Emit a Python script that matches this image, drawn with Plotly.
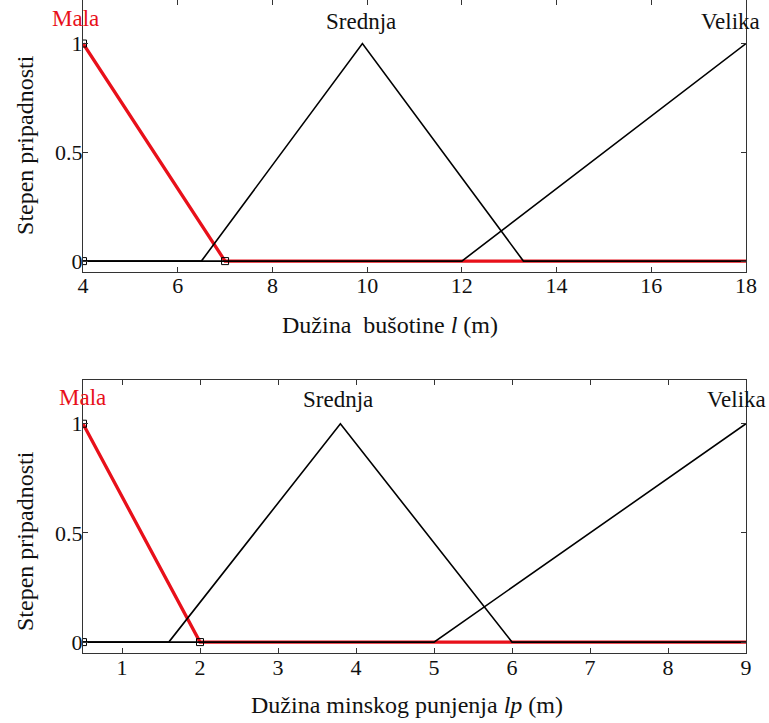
import plotly.graph_objects as go
from plotly.subplots import make_subplots

# ---- data: top panel (Dužina bušotine l, m) ----
top_mf_names = ["Mala", "Srednja", "Velika"]
top_mala_x = [4, 7, 18]
top_mala_y = [1, 0, 0]
top_srednja_x = [4, 6.5, 9.9, 13.3, 18]
top_srednja_y = [0, 0, 1, 0, 0]
top_velika_x = [4, 12, 18]
top_velika_y = [0, 0, 1]
top_handles_x = [4, 4, 7]
top_handles_y = [0, 1, 0]
top_xticks = [4, 6, 8, 10, 12, 14, 16, 18]
top_xrange = [4, 18]

# ---- data: bottom panel (Dužina minskog punjenja lp, m) ----
bot_mf_names = ["Mala", "Srednja", "Velika"]
bot_mala_x = [0.5, 2, 9]
bot_mala_y = [1, 0, 0]
bot_srednja_x = [0.5, 1.6, 3.8, 6, 9]
bot_srednja_y = [0, 0, 1, 0, 0]
bot_velika_x = [0.5, 5, 9]
bot_velika_y = [0, 0, 1]
bot_handles_x = [0.5, 0.5, 2]
bot_handles_y = [0, 1, 0]
bot_xticks = [1, 2, 3, 4, 5, 6, 7, 8, 9]
bot_xrange = [0.5, 9]

yticks = [0, 0.5, 1]
ytick_text = ["0", "0.5", "1"]

# label positions (fraction of each panel's x domain)
top_label_pos = [-0.012, 0.42, 0.976]
bot_label_pos = [-0.0015, 0.385, 0.986]
top_label_y = [1.115, 1.10, 1.10]
bot_label_y = [1.12, 1.11, 1.11]

FONT = "Liberation Serif"
RED = "#e8101a"

fig = make_subplots(rows=2, cols=1)

def add_panel(row, mx, my, sx, sy, vx, vy, hx, hy):
    fig.add_trace(go.Scatter(x=mx, y=my, mode="lines",
                             line=dict(color=RED, width=3.3),
                             showlegend=False, hoverinfo="skip"), row=row, col=1)
    fig.add_trace(go.Scatter(x=sx, y=sy, mode="lines",
                             line=dict(color="black", width=1.6),
                             showlegend=False, hoverinfo="skip"), row=row, col=1)
    fig.add_trace(go.Scatter(x=vx, y=vy, mode="lines",
                             line=dict(color="black", width=1.6),
                             showlegend=False, hoverinfo="skip"), row=row, col=1)
    fig.add_trace(go.Scatter(x=hx, y=hy, mode="markers",
                             marker=dict(symbol="square-open", size=7,
                                         color="black", line=dict(width=1)),
                             showlegend=False, hoverinfo="skip"), row=row, col=1)

add_panel(1, top_mala_x, top_mala_y, top_srednja_x, top_srednja_y,
          top_velika_x, top_velika_y, top_handles_x, top_handles_y)
add_panel(2, bot_mala_x, bot_mala_y, bot_srednja_x, bot_srednja_y,
          bot_velika_x, bot_velika_y, bot_handles_x, bot_handles_y)

axis_common = dict(showgrid=False, zeroline=False, showline=True,
                   linecolor="#333", linewidth=1, mirror="ticks",
                   ticks="inside", ticklen=5, tickcolor="#333",
                   tickfont=dict(family=FONT, size=22, color="#111"))

fig.update_xaxes(range=top_xrange, tickvals=top_xticks, domain=[0, 1],
                 ticklabelstandoff=-6, row=1, col=1, **axis_common)
fig.update_xaxes(range=bot_xrange, tickvals=bot_xticks, domain=[0, 1],
                 ticklabelstandoff=-5, row=2, col=1, **axis_common)
fig.update_yaxes(range=[-0.05, 1.2], tickvals=yticks, ticktext=ytick_text,
                 domain=[0.5835, 1.0], ticklabelstandoff=-5,
                 row=1, col=1, **axis_common)
fig.update_yaxes(range=[-0.05, 1.2], tickvals=yticks, ticktext=ytick_text,
                 domain=[0.0, 0.418], ticklabelstandoff=-5,
                 row=2, col=1, **axis_common)

annotations = []
for name, lx, ly in zip(top_mf_names, top_label_pos, top_label_y):
    annotations.append(dict(x=lx, y=ly, xref="x domain", yref="y", text=name,
                            showarrow=False, xanchor="center", yanchor="middle",
                            font=dict(family=FONT, size=23,
                                      color=RED if name == "Mala" else "#111")))
for name, lx, ly in zip(bot_mf_names, bot_label_pos, bot_label_y):
    annotations.append(dict(x=lx, y=ly, xref="x2 domain", yref="y2", text=name,
                            showarrow=False, xanchor="center", yanchor="middle",
                            font=dict(family=FONT, size=23,
                                      color=RED if name == "Mala" else "#111")))

title_font = dict(family=FONT, size=24, color="#111")
title_common = dict(xref="paper", yref="paper", showarrow=False,
                    xanchor="center", yanchor="middle", font=title_font)
annotations += [
    dict(x=0.463, y=0.502, text="Dužina\u00a0 bušotine <i>l</i> (m)", **title_common),
    dict(x=0.489, y=-0.0796, text="Dužina minskog punjenja <i>lp</i> (m)", **title_common),
    dict(x=-0.0875, y=0.778, textangle=-90, text="Stepen pripadnosti", **title_common),
    dict(x=-0.0875, y=0.1715, textangle=-90, text="Stepen pripadnosti", **title_common),
]

fig.update_layout(width=769, height=723,
                  margin=dict(l=83, r=23, t=0, b=70),
                  paper_bgcolor="white", plot_bgcolor="white",
                  font=dict(family=FONT),
                  annotations=annotations, showlegend=False)

fig.write_html("out.html", config={"displayModeBar": False},
               post_script="document.body.style.margin='0';document.body.style.overflow='hidden';")
